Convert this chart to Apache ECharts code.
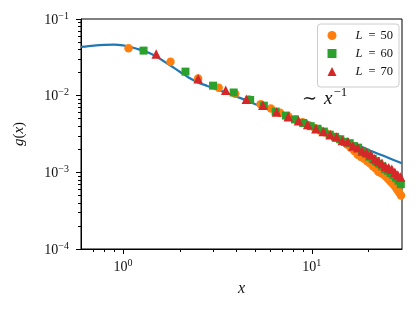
<!DOCTYPE html>
<html><head><meta charset="utf-8">
<script src="https://cdn.jsdelivr.net/npm/echarts@6/dist/echarts.min.js"></script>
<style>html,body{margin:0;padding:0;background:#fff}#c{width:416px;height:309px}</style>
</head><body><div id="c"></div>
<script>
// ---- data ----
const curveX = [0.6, 0.7, 0.8, 0.9, 1.0, 1.1, 1.2, 1.35, 1.5, 1.75, 2.0, 2.25, 2.5, 2.8, 3.2, 3.6, 4.0, 4.5, 5, 6, 7, 8, 9, 10, 12, 14, 17, 20, 25, 30];
const curveY = [0.0432, 0.0450, 0.0460, 0.0462, 0.0452, 0.0432, 0.0405, 0.0368, 0.0325, 0.0255, 0.0205, 0.0170, 0.0149, 0.0134, 0.0119, 0.0107, 0.0097, 0.0087, 0.0078, 0.0065, 0.0056, 0.0049, 0.0044, 0.0040, 0.0033, 0.00285, 0.00233, 0.00196, 0.00157, 0.00131];

const xL50 = [1.071, 1.786, 2.5, 3.214, 3.929, 4.643, 5.357, 6.071, 6.786, 7.5, 8.214, 8.929, 9.643, 10.357, 11.071, 11.786, 12.5, 13.214, 13.929, 14.643, 15.357, 16.071, 16.786, 17.5, 18.214, 18.929, 19.643, 20.357, 21.071, 21.786, 22.5, 23.214, 23.929, 24.643, 25.357, 26.071, 26.786, 27.5, 28.214, 28.929, 29.643];
const yL50 = [0.0415, 0.0277, 0.0168, 0.0127, 0.0106, 0.0089, 0.0077, 0.0068, 0.0060, 0.0054, 0.0049, 0.0045, 0.0041, 0.0038, 0.0035, 0.0033, 0.0031, 0.0029, 0.0027, 0.0025, 0.0023, 0.0021, 0.0019, 0.0017, 0.00158, 0.0015, 0.0014, 0.0013, 0.0012, 0.00112, 0.00102, 0.00098, 0.00094, 0.00088, 0.00082, 0.00076, 0.00071, 0.00066, 0.0006, 0.00055, 0.0005];

const xL60 = [1.286, 2.143, 3.0, 3.857, 4.714, 5.571, 6.429, 7.286, 8.143, 9.0, 9.857, 10.714, 11.571, 12.429, 13.286, 14.143, 15.0, 15.857, 16.714, 17.571, 18.429, 19.286, 20.143, 21.0, 21.857, 22.714, 23.571, 24.429, 25.286, 26.143, 27.0, 27.857, 28.714, 29.571];
const yL60 = [0.0387, 0.0206, 0.0135, 0.0110, 0.0088, 0.0074, 0.0062, 0.0055, 0.0049, 0.0044, 0.0040, 0.0037, 0.0034, 0.0031, 0.0029, 0.0027, 0.0025, 0.0024, 0.0022, 0.0021, 0.0019, 0.0018, 0.0016, 0.0015, 0.0014, 0.0013, 0.0012, 0.0011, 0.00105, 0.00098, 0.00092, 0.00085, 0.00078, 0.0007];

const xL70 = [1.5, 2.5, 3.5, 4.5, 5.5, 6.5, 7.5, 8.5, 9.5, 10.5, 11.5, 12.5, 13.5, 14.5, 15.5, 16.5, 17.5, 18.5, 19.5, 20.5, 21.5, 22.5, 23.5, 24.5, 25.5, 26.5, 27.5, 28.5, 29.5];
const yL70 = [0.0350, 0.0166, 0.0118, 0.0090, 0.0075, 0.0061, 0.0053, 0.0047, 0.0042, 0.0037, 0.0034, 0.0031, 0.0029, 0.0026, 0.0025, 0.0022, 0.0021, 0.0019, 0.0018, 0.0017, 0.0015, 0.0014, 0.0013, 0.0012, 0.00115, 0.0011, 0.0010, 0.00092, 0.00087];

const seriesNames = ['50', '60', '70'];
const xMajorTicks = [1, 10];
const xTickExp = ['0', '1'];
const xMinorTicks = [0.7, 0.8, 0.9, 2, 3, 4, 5, 6, 7, 8, 9, 20];
const yMajorTicks = [0.0001, 0.001, 0.01, 0.1];
const yTickExp = ['\u22124', '\u22123', '\u22122', '\u22121'];
const yMinorTicks = [0.0002, 0.0003, 0.0004, 0.0005, 0.0006, 0.0007, 0.0008, 0.0009,
  0.002, 0.003, 0.004, 0.005, 0.006, 0.007, 0.008, 0.009,
  0.02, 0.03, 0.04, 0.05, 0.06, 0.07, 0.08, 0.09];

// ---- chart ----
const SERIF = '"Liberation Serif", "DejaVu Serif", serif';
const INK = '#111';
const zip = (a, b) => a.map((v, i) => [v, b[i]]);
const tickRich = {
  b: { fontFamily: SERIF, fontSize: 14, color: INK, lineHeight: 16, verticalAlign: 'bottom' },
  s: { fontFamily: SERIF, fontSize: 10, color: INK, lineHeight: 10, verticalAlign: 'top' }
};
function expLabel(ticks, exps) {
  return v => {
    let best = 0;
    ticks.forEach((t, i) => { if (Math.abs(Math.log10(t) - Math.log10(v)) < Math.abs(Math.log10(ticks[best]) - Math.log10(v))) best = i; });
    return '{b|10}{s|' + exps[best] + '}';
  };
}
const lineBlack = { color: '#000', width: 1 };

const chart = echarts.init(document.getElementById('c'), null, { renderer: 'canvas' });
chart.setOption({
  animation: false,
  backgroundColor: '#fff',
  grid: { left: 81, right: 14, top: 19, bottom: 60, show: true, borderColor: '#000', borderWidth: 1, outerBoundsMode: 'none' },
  xAxis: [
    {
      type: 'log', min: 0.6, max: 30, position: 'bottom',
      axisLine: { show: true, onZero: false, lineStyle: lineBlack },
      axisTick: { show: true, customValues: xMajorTicks, length: 5, lineStyle: lineBlack },
      axisLabel: { customValues: xMajorTicks, formatter: expLabel(xMajorTicks, xTickExp), rich: tickRich, margin: 9 },
      splitLine: { show: false }, minorTick: { show: false },
      name: 'x', nameLocation: 'middle', nameGap: 32,
      nameTextStyle: { fontFamily: SERIF, fontStyle: 'italic', fontSize: 16, color: INK }
    },
    {
      type: 'log', min: 0.6, max: 30, position: 'bottom',
      axisLine: { show: false, onZero: false },
      axisTick: { show: true, customValues: xMinorTicks, length: 3, lineStyle: lineBlack },
      axisLabel: { show: false }, splitLine: { show: false }
    }
  ],
  yAxis: [
    {
      type: 'log', min: 0.0001, max: 0.1, position: 'left',
      axisLine: { show: true, onZero: false, lineStyle: lineBlack },
      axisTick: { show: true, customValues: yMajorTicks, length: 5, lineStyle: lineBlack },
      axisLabel: { customValues: yMajorTicks, formatter: expLabel(yMajorTicks, yTickExp), rich: tickRich, margin: 12 },
      splitLine: { show: false },
      name: '{i|g}{t|(}{i|x}{t|)}', nameLocation: 'middle', nameGap: 54, nameRotate: 90,
      nameTextStyle: {
        rich: {
          i: { fontFamily: SERIF, fontStyle: 'italic', fontSize: 15, color: INK },
          t: { fontFamily: SERIF, fontSize: 15, color: INK }
        }
      }
    },
    {
      type: 'log', min: 0.0001, max: 0.1, position: 'left',
      axisLine: { show: false, onZero: false },
      axisTick: { show: true, customValues: yMinorTicks, length: 3, lineStyle: lineBlack },
      axisLabel: { show: false }, splitLine: { show: false }
    }
  ],
  legend: {
    data: seriesNames,
    orient: 'vertical', right: 17, top: 24,
    itemWidth: 9, itemHeight: 9, itemGap: 5,
    padding: [5, 6, 9, 10],
    borderColor: '#ccc', borderWidth: 1, borderRadius: 3,
    backgroundColor: 'rgba(255,255,255,0.8)',
    formatter: n => '{i|L}{e|=}{t|' + n + '}',
    textStyle: {
      rich: {
        i: { fontFamily: SERIF, fontStyle: 'italic', fontSize: 12.5, color: INK, padding: [0, 0, 0, 14], lineHeight: 13 },
        e: { fontFamily: SERIF, fontSize: 12.5, color: INK, padding: [0, 5, 0, 6], lineHeight: 13 },
        t: { fontFamily: SERIF, fontSize: 12.5, color: INK, lineHeight: 13 }
      }
    }
  },
  graphic: [{
    type: 'text', left: 302, top: 86, z: 100,
    style: {
      text: '{m|\u223C}{i|x}{s|\u22121}',
      rich: {
        m: { fontFamily: SERIF, fontSize: 18, fill: INK, lineHeight: 22, verticalAlign: 'bottom', padding: [0, 7, 0, 0] },
        i: { fontFamily: SERIF, fontStyle: 'italic', fontSize: 19, fill: INK, lineHeight: 22, verticalAlign: 'bottom', padding: [0, 1, 0, 0] },
        s: { fontFamily: SERIF, fontSize: 13, fill: INK, lineHeight: 13, verticalAlign: 'top' }
      }
    }
  }],
  series: [
    {
      type: 'line', name: 'curve', data: zip(curveX, curveY), smooth: 0.3,
      showSymbol: false, lineStyle: { color: '#1f77b4', width: 2.2 }, z: 1, silent: true
    },
    { type: 'scatter', name: seriesNames[0], data: zip(xL50, yL50), symbol: 'circle', symbolSize: 8.5, itemStyle: { color: '#ff7f0e', opacity: 1 }, z: 2 },
    { type: 'scatter', name: seriesNames[1], data: zip(xL60, yL60), symbol: 'rect', symbolSize: 8, itemStyle: { color: '#2ca02c', opacity: 1 }, z: 3 },
    { type: 'scatter', name: seriesNames[2], data: zip(xL70, yL70), symbol: 'triangle', symbolSize: 9.5, itemStyle: { color: '#d62728', opacity: 1 }, z: 4 }
  ]
});
</script></body></html>
